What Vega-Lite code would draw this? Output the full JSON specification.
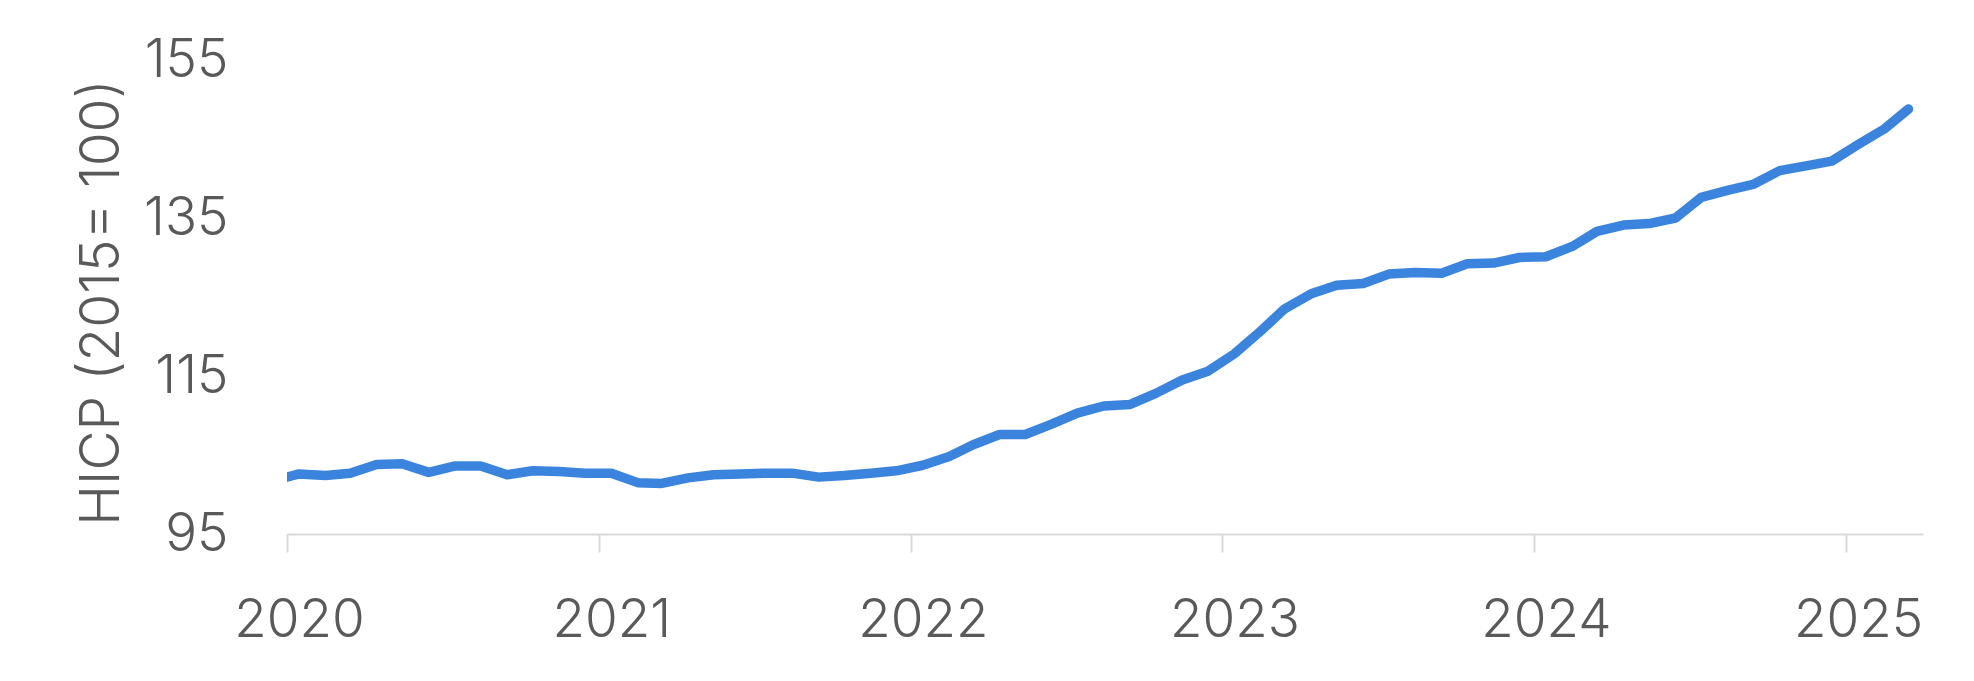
{
  "$schema": "https://vega.github.io/schema/vega-lite/v6.json",
  "width": 1636,
  "height": 474,
  "autosize": {"type": "none"},
  "padding": {"left": 287, "top": 60, "right": 51, "bottom": 147},
  "background": "white",
  "config": {
    "view": {"stroke": null},
    "font": "Inter"
  },
  "data": {
    "values": [
      {"date": "2019-12-15", "hicp": 101.7},
      {"date": "2020-01-15", "hicp": 102.6},
      {"date": "2020-02-15", "hicp": 102.4},
      {"date": "2020-03-15", "hicp": 102.7},
      {"date": "2020-04-15", "hicp": 103.8},
      {"date": "2020-05-15", "hicp": 103.9},
      {"date": "2020-06-15", "hicp": 102.8},
      {"date": "2020-07-15", "hicp": 103.6},
      {"date": "2020-08-15", "hicp": 103.6},
      {"date": "2020-09-15", "hicp": 102.5},
      {"date": "2020-10-15", "hicp": 103.0},
      {"date": "2020-11-15", "hicp": 102.9},
      {"date": "2020-12-15", "hicp": 102.7},
      {"date": "2021-01-15", "hicp": 102.7},
      {"date": "2021-02-15", "hicp": 101.5},
      {"date": "2021-03-15", "hicp": 101.4},
      {"date": "2021-04-15", "hicp": 102.1},
      {"date": "2021-05-15", "hicp": 102.5},
      {"date": "2021-06-15", "hicp": 102.6},
      {"date": "2021-07-15", "hicp": 102.7},
      {"date": "2021-08-15", "hicp": 102.7},
      {"date": "2021-09-15", "hicp": 102.2},
      {"date": "2021-10-15", "hicp": 102.4},
      {"date": "2021-11-15", "hicp": 102.7},
      {"date": "2021-12-15", "hicp": 103.0},
      {"date": "2022-01-15", "hicp": 103.7},
      {"date": "2022-02-15", "hicp": 104.8},
      {"date": "2022-03-15", "hicp": 106.3},
      {"date": "2022-04-15", "hicp": 107.6},
      {"date": "2022-05-15", "hicp": 107.6},
      {"date": "2022-06-15", "hicp": 108.9},
      {"date": "2022-07-15", "hicp": 110.3},
      {"date": "2022-08-15", "hicp": 111.2},
      {"date": "2022-09-15", "hicp": 111.4},
      {"date": "2022-10-15", "hicp": 112.8},
      {"date": "2022-11-15", "hicp": 114.5},
      {"date": "2022-12-15", "hicp": 115.6},
      {"date": "2023-01-15", "hicp": 117.8},
      {"date": "2023-02-15", "hicp": 120.7},
      {"date": "2023-03-15", "hicp": 123.5},
      {"date": "2023-04-15", "hicp": 125.4},
      {"date": "2023-05-15", "hicp": 126.5},
      {"date": "2023-06-15", "hicp": 126.7},
      {"date": "2023-07-15", "hicp": 127.9},
      {"date": "2023-08-15", "hicp": 128.1},
      {"date": "2023-09-15", "hicp": 128.0},
      {"date": "2023-10-15", "hicp": 129.2},
      {"date": "2023-11-15", "hicp": 129.3},
      {"date": "2023-12-15", "hicp": 130.0},
      {"date": "2024-01-15", "hicp": 130.1},
      {"date": "2024-02-15", "hicp": 131.4},
      {"date": "2024-03-15", "hicp": 133.3},
      {"date": "2024-04-15", "hicp": 134.1},
      {"date": "2024-05-15", "hicp": 134.3},
      {"date": "2024-06-15", "hicp": 135.0},
      {"date": "2024-07-15", "hicp": 137.6},
      {"date": "2024-08-15", "hicp": 138.5},
      {"date": "2024-09-15", "hicp": 139.3},
      {"date": "2024-10-15", "hicp": 141.0},
      {"date": "2024-11-15", "hicp": 141.6},
      {"date": "2024-12-15", "hicp": 142.2},
      {"date": "2025-01-15", "hicp": 144.3},
      {"date": "2025-02-15", "hicp": 146.3},
      {"date": "2025-03-15", "hicp": 148.8}
    ]
  },
  "mark": {
    "type": "line",
    "clip": true,
    "color": "#3A84DE",
    "strokeWidth": 9.5,
    "strokeCap": "round",
    "strokeJoin": "round"
  },
  "encoding": {
    "x": {
      "field": "date",
      "type": "temporal",
      "scale": {
        "type": "utc",
        "domain": [
          {"year": 2020, "month": 1, "date": 1, "utc": true},
          {"year": 2025, "month": 4, "date": 1, "utc": true}
        ]
      },
      "axis": {
        "title": null,
        "format": "%Y",
        "values": [
          {"year": 2020, "month": 1, "date": 1, "utc": true},
          {"year": 2021, "month": 1, "date": 1, "utc": true},
          {"year": 2022, "month": 1, "date": 1, "utc": true},
          {"year": 2023, "month": 1, "date": 1, "utc": true},
          {"year": 2024, "month": 1, "date": 1, "utc": true},
          {"year": 2025, "month": 1, "date": 1, "utc": true}
        ],
        "grid": false,
        "domainColor": "#d9d9d9",
        "domainWidth": 2,
        "tickColor": "#d9d9d9",
        "tickWidth": 2,
        "tickSize": 18,
        "labelFontSize": 53,
        "labelFontWeight": 300,
        "labelColor": "#595959",
        "labelPadding": 42,
        "labelOffset": 12,
        "labelFlush": false,
        "labelOverlap": false
      }
    },
    "y": {
      "field": "hicp",
      "type": "quantitative",
      "scale": {"domain": [95, 155], "nice": false, "zero": false},
      "axis": {
        "values": [95, 115, 135, 155],
        "grid": false,
        "domain": false,
        "ticks": false,
        "labelFontSize": 53,
        "labelFontWeight": 300,
        "labelColor": "#595959",
        "labelPadding": 59,
        "title": "HICP (2015= 100)",
        "titleFontSize": 55,
        "titleFontWeight": 300,
        "titleColor": "#595959",
        "titleAngle": -90,
        "titleX": -169,
        "titleY": 242,
        "titleAlign": "center",
        "titleBaseline": "alphabetic"
      }
    }
  }
}
